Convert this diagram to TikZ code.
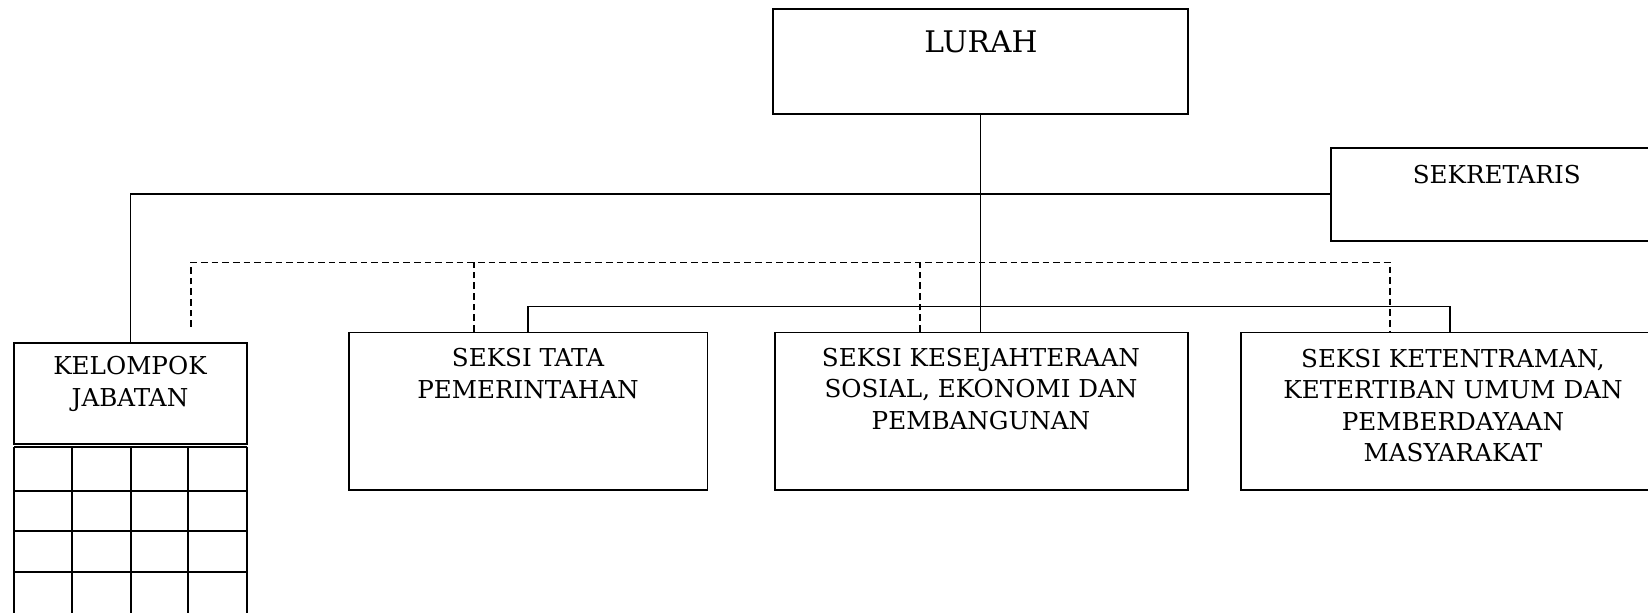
\documentclass[tikz,border=0pt]{standalone}
\usepackage{fontspec}
\setmainfont{DejaVu Serif}

\begin{document}
\begin{tikzpicture}[x=1in,y=1in,
  box/.style={draw, line width=1.3pt, inner sep=0pt},
  lbl/.style={align=center, font=\fontsize{17.8}{22.8}\selectfont, inner sep=0pt},
  conn/.style={line width=1.05pt},
  dashline/.style={line width=1.05pt, dash pattern=on 4.8pt off 2.9pt}]
\useasboundingbox (0,0) rectangle (16.48,6.13);
% boxes
\node[box, minimum width=4.156in, minimum height=1.047in] (lurah) at (9.8050,5.5130) {};
\node[lbl, font=\fontsize{21.5}{26}\selectfont] (lurahtext) at (9.8100,5.7100) {LURAH};
\node[box, minimum width=3.310in, minimum height=0.930in] (sekretaris) at (14.9650,4.1880) {};
\node[lbl] (sekretaristext) at (14.9670,4.3800) {SEKRETARIS};
\node[box, minimum width=2.327in, minimum height=1.007in] (kelompok) at (1.3035,2.1935) {};
\node[lbl] (kelompoktext) at (1.3000,2.2900) {KELOMPOK\\JABATAN};
\node[box, minimum width=3.587in, minimum height=1.575in] (tapem) at (5.2805,2.0175) {};
\node[lbl] (tapemtext) at (5.2800,2.3930) {SEKSI TATA\\PEMERINTAHAN};
\node[box, minimum width=4.131in, minimum height=1.575in] (kesos) at (9.8115,2.0175) {};
\node[lbl] (kesostext) at (9.8100,2.2400) {SEKSI KESEJAHTERAAN\\SOSIAL, EKONOMI DAN\\PEMBANGUNAN};
\node[box, minimum width=4.243in, minimum height=1.575in] (trantib) at (14.5300,2.0175) {};
\node[lbl] (trantibtext) at (14.5300,2.0750) {SEKSI KETENTRAMAN,\\KETERTIBAN UMUM DAN\\PEMBERDAYAAN\\MASYARAKAT};
% grid under kelompok jabatan
\draw[line width=1.3pt] (0.1400,1.6630) -- (2.4670,1.6630);
\draw[line width=1.3pt] (0.1400,1.2230) -- (2.4670,1.2230);
\draw[line width=1.3pt] (0.1400,0.8170) -- (2.4670,0.8170);
\draw[line width=1.3pt] (0.1400,0.4100) -- (2.4670,0.4100);
\draw[line width=1.3pt] (0.1400,1.6630) -- (0.1400,-0.1000);
\draw[line width=1.3pt] (0.7170,1.6630) -- (0.7170,-0.1000);
\draw[line width=1.8pt] (1.3100,1.6630) -- (1.3100,-0.1000);
\draw[line width=1.3pt] (1.8830,1.6630) -- (1.8830,-0.1000);
\draw[line width=1.3pt] (2.4670,1.6630) -- (2.4670,-0.1000);
% solid lines
\draw[conn] (lurah.south) -- (lurah.south |- kesos.north);
\draw[conn] (kelompok.north) |- (sekretaris.west);
\draw[conn] (tapem.north) -- ++(0,0.2500) -| ([xshift=-0.03in]trantib.north);
% dashed lines
\coordinate (dashend) at (1.9100,2.8600);
\draw[dashline] (dashend) |- ([xshift=-0.63in,yshift=0.692in]trantib.north) -- ([xshift=-0.63in]trantib.north);
\draw[dashline] ([xshift=-0.54in]tapem.north) -- ++(0,0.692);
\draw[dashline] ([xshift=-0.61in]kesos.north) -- ++(0,0.692);
\end{tikzpicture}
\end{document}
